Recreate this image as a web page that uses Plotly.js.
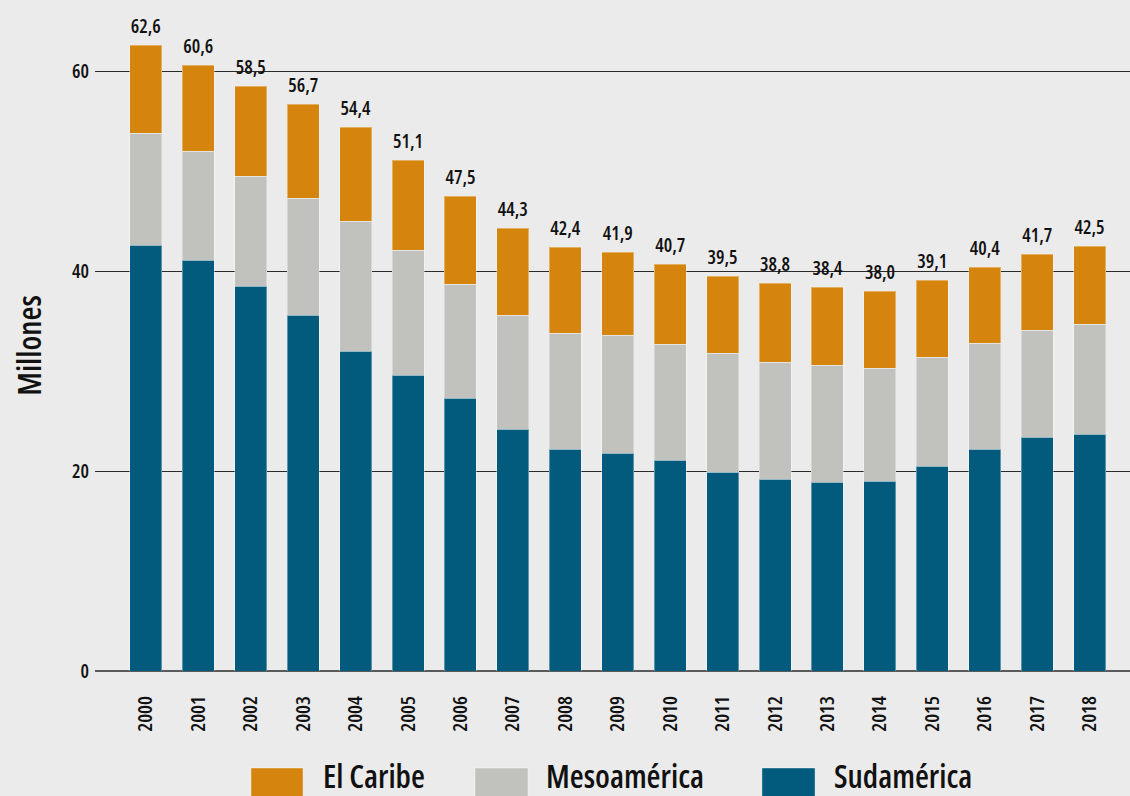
<!DOCTYPE html>
<html>
<head>
<meta charset="utf-8">
<script src="https://cdn.plot.ly/plotly-3.0.1.min.js"></script>
<style>
html,body{margin:0;padding:0;background:#ebebeb;}
#chart{width:1130px;height:796px;}
svg text{font-stretch:condensed !important; font-weight:600 !important;}
</style>
</head>
<body>
<div id="chart"></div>
<script>
const years = ['2000','2001','2002','2003','2004','2005','2006','2007','2008','2009','2010','2011','2012','2013','2014','2015','2016','2017','2018'];
const sudamerica = [42.6,41.1,38.5,35.6,32.0,29.6,27.3,24.2,22.2,21.8,21.1,19.9,19.2,18.9,19.0,20.5,22.2,23.4,23.7];
const mesoamerica = [11.2,10.9,11.0,11.7,13.0,12.5,11.4,11.4,11.6,11.8,11.6,11.9,11.7,11.7,11.3,10.9,10.6,10.7,11.0];
const totals = [62.6,60.6,58.5,56.7,54.4,51.1,47.5,44.3,42.4,41.9,40.7,39.5,38.8,38.4,38.0,39.1,40.4,41.7,42.5];
const caribe = totals.map((t,i)=>+(t - sudamerica[i] - mesoamerica[i]).toFixed(1));
const seriesNames = ['El Caribe','Mesoamérica','Sudamérica'];
const colors = {'Sudamérica':'#025b7d','Mesoamérica':'#c1c1be','El Caribe':'#d5850d'};

const FONT = '"Open Sans", sans-serif';
const edge = {color:'rgba(255,255,255,0.35)', width:1};

const traces = [
  {type:'bar', name:'Sudamérica', x:years, y:sudamerica, marker:{color:colors['Sudamérica'], line:edge}, hoverinfo:'y+name'},
  {type:'bar', name:'Mesoamérica', x:years, y:mesoamerica, marker:{color:colors['Mesoamérica'], line:edge}, hoverinfo:'y+name'},
  {type:'bar', name:'El Caribe', x:years, y:caribe, marker:{color:colors['El Caribe'], line:edge}, hoverinfo:'y+name'},
  {type:'scatter', mode:'markers+text', name:'Total', x:years, y:totals,
   text: totals.map(v=>v.toFixed(1).replace('.', ',')),
   textposition:'top center', cliponaxis:false,
   marker:{size:10, opacity:0}, textfont:{family:FONT, size:19, color:'#111'}, hoverinfo:'skip'}
];

const annotations = [];
const legendPos = [[0.1507,0.2010,0.2193],[0.3671,0.4184,0.4348],[0.6444,0.6957,0.7130]];
const shapes = [];
seriesNames.forEach((n,i)=>{
  const p = legendPos[i];
  shapes.push({type:'rect', xref:'paper', yref:'paper', x0:p[0], x1:p[1], y0:-0.149, y1:-0.205,
    fillcolor:colors[n], line:{width:1, color:'rgba(255,255,255,0.4)'}});
  annotations.push({xref:'paper', yref:'paper', x:p[2], y:-0.160, xanchor:'left', yanchor:'middle',
    text:n, showarrow:false, borderpad:0, font:{family:FONT, size:32, color:'#111'}});
});

const layout = {
  width:1130, height:796,
  paper_bgcolor:'#ebebeb', plot_bgcolor:'#ebebeb',
  margin:{l:95, r:0, t:20, b:125},
  barmode:'stack', bargap:0.39,
  showlegend:false,
  font:{family:FONT, color:'#111'},
  xaxis:{
    type:'category', range:[-0.97, 18.77],
    tickangle:-90, tickfont:{family:FONT, size:20, color:'#111'},
    ticks:'', showgrid:false, showline:false, zeroline:false,
    ticklabelstandoff:20, fixedrange:true
  },
  yaxis:{
    range:[0, 65.1], tickvals:[0,20,40,60], ticktext:['0','20','40','60'],
    tickfont:{family:FONT, size:19, color:'#111'},
    showgrid:true, gridcolor:'#2a2a2a', gridwidth:1,
    zeroline:true, zerolinecolor:'#5a5a5a', zerolinewidth:2,
    ticks:'', ticklabelstandoff:5, showline:false,
    title:{text:'Millones', font:{family:FONT, size:32, color:'#111'}, standoff:20},
    automargin:false, fixedrange:true
  },
  annotations: annotations,
  shapes: shapes
};

Plotly.newPlot('chart', traces, layout, {displayModeBar:false, responsive:false});
</script>
</body>
</html>
